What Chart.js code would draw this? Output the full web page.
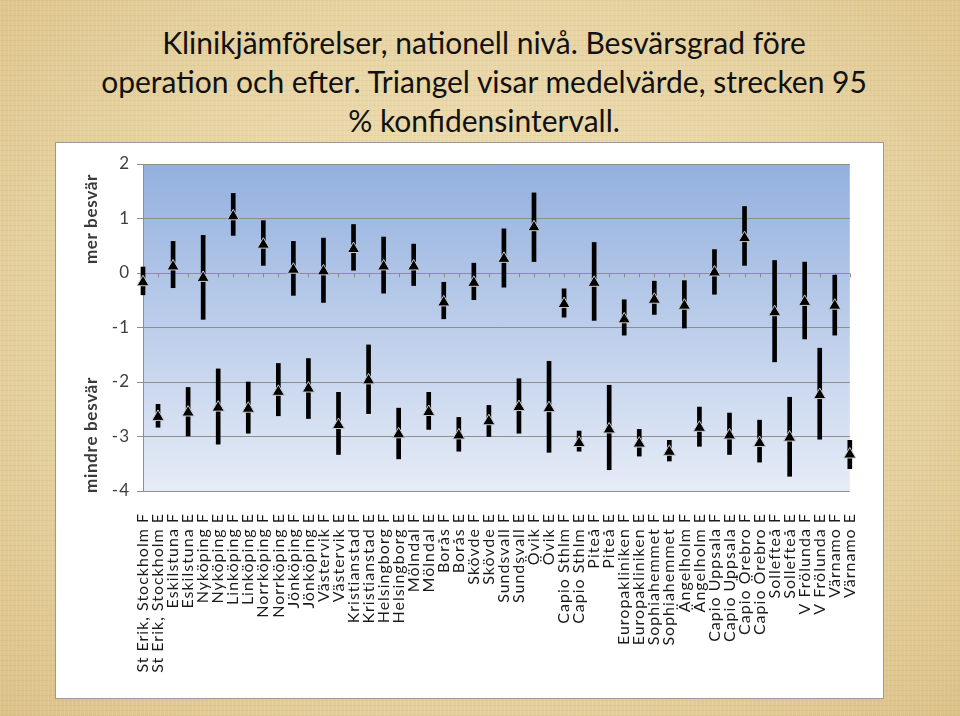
<!DOCTYPE html>
<html>
<head>
<meta charset="utf-8">
<script src="https://cdn.jsdelivr.net/npm/chart.js@4/dist/chart.umd.min.js"></script>
<style>
  html, body { margin: 0; padding: 0; }
  body {
    width: 960px; height: 716px; overflow: hidden; position: relative;
    background-color: #e6d09c;
    background-image:
      repeating-linear-gradient(90deg, rgba(255,255,255,0.10) 0 1px, rgba(0,0,0,0) 1px 4px),
      repeating-linear-gradient(0deg, rgba(160,120,50,0.07) 0 1px, rgba(0,0,0,0) 1px 5px),
      radial-gradient(ellipse at 50% 45%, #f0e0b6 0%, #e8d4a2 55%, #dcc186 100%);
    font-family: Lato, "Noto Sans", sans-serif;
  }
  #title {
    position: absolute; left: 4px; top: 23px; width: 960px;
    text-align: center; font-size: 30px; line-height: 39px; color: #111;
  }
  #box {
    position: absolute; left: 55px; top: 142px; width: 829px; height: 557px;
    box-sizing: border-box; background: #fff; border: 1px solid #9a9a9a;
  }
  #wrap { position: absolute; left: 0; top: 0; width: 827px; height: 555px; }
  .side {
    position: absolute; font-weight: bold; font-size: 17px; letter-spacing: 0.7px; color: #3a3a3a;
    transform: translate(-50%, -50%) rotate(-90deg); white-space: nowrap;
  }
</style>
</head>
<body>
<div id="title">Klinikjämförelser, nationell nivå. Besvärsgrad före<br>operation och efter. Triangel visar medelvärde, strecken 95<br>% konfidensintervall.</div>
<div id="box"><div id="wrap"><canvas id="chart"></canvas></div></div>
<div class="side" style="left:90px; top:219px;">mer besvär</div>
<div class="side" style="left:90px; top:435px;">mindre besvär</div>
<script>
// Clinics: F = före (before), E = efter (after)
const categories = [
  'St Erik, Stockholm F', 'St Erik, Stockholm E', 'Eskilstuna F', 'Eskilstuna E',
  'Nyköping F', 'Nyköping E', 'Linköping F', 'Linköping E',
  'Norrköping F', 'Norrköping E', 'Jönköping F', 'Jönköping E',
  'Västervik F', 'Västervik E', 'Kristianstad F', 'Kristianstad E',
  'Helsingborg F', 'Helsingborg E', 'Mölndal F', 'Mölndal E',
  'Borås F', 'Borås E', 'Skövde F', 'Skövde E',
  'Sundsvall F', 'Sundsvall E', 'Övik F', 'Övik E',
  'Capio Sthlm F', 'Capio Sthlm E', 'Piteå F', 'Piteå E',
  'Europakliniken F', 'Europakliniken E', 'Sophiahemmet F', 'Sophiahemmet E',
  'Ängelholm F', 'Ängelholm E', 'Capio Uppsala F', 'Capio Uppsala E',
  'Capio Örebro F', 'Capio Örebro E', 'Sollefteå F', 'Sollefteå E',
  'V Frölunda F', 'V Frölunda E', 'Värnamo F', 'Värnamo E'
];

// mean value (triangle)
const means = [
  -0.17, -2.64, 0.12, -2.56, -0.09, -2.47, 1.04, -2.49,
  0.52, -2.18, 0.06, -2.12, 0.03, -2.79, 0.44, -1.97,
  0.12, -2.96, 0.12, -2.55, -0.54, -2.98, -0.18, -2.72,
  0.26, -2.46, 0.84, -2.48, -0.57, -3.12, -0.18, -2.87,
  -0.85, -3.13, -0.49, -3.28, -0.60, -2.84, 0.01, -2.98,
  0.64, -3.12, -0.72, -3.02, -0.53, -2.24, -0.60, -3.33
];

// 95% confidence interval, upper and lower ends
const ciHigh = [
  0.11, -2.41, 0.58, -2.10, 0.69, -1.76, 1.46, -2.00,
  0.96, -1.66, 0.58, -1.57, 0.64, -2.19, 0.89, -1.32,
  0.66, -2.48, 0.53, -2.19, -0.17, -2.65, 0.18, -2.43,
  0.81, -1.94, 1.47, -1.62, -0.29, -2.90, 0.56, -2.06,
  -0.49, -2.87, -0.15, -3.07, -0.14, -2.46, 0.43, -2.57,
  1.22, -2.70, 0.23, -2.28, 0.20, -1.38, -0.04, -3.07
];
const ciLow = [
  -0.40, -2.83, -0.27, -2.99, -0.85, -3.14, 0.69, -2.94,
  0.14, -2.62, -0.41, -2.67, -0.54, -3.33, 0.05, -2.58,
  -0.37, -3.41, -0.23, -2.87, -0.84, -3.27, -0.49, -3.00,
  -0.26, -2.94, 0.21, -3.29, -0.81, -3.27, -0.87, -3.61,
  -1.14, -3.36, -0.76, -3.45, -1.01, -3.18, -0.39, -3.33,
  0.14, -3.47, -1.63, -3.73, -1.21, -3.05, -1.14, -3.59
];

const yTicks = [2, 1, 0, -1, -2, -3, -4];

const gridGray = '#8e8e8e';

// gradient plot background
const plotBg = {
  id: 'plotBg',
  beforeDraw(chart) {
    const { ctx, chartArea: a } = chart;
    const g = ctx.createLinearGradient(0, a.top, 0, a.bottom);
    g.addColorStop(0, '#93b0de');
    g.addColorStop(1, '#e6ecf7');
    ctx.save();
    ctx.fillStyle = g;
    ctx.fillRect(a.left, a.top, a.right - a.left, a.bottom - a.top);
    ctx.restore();
    // category labels in the original are widely spaced
    ctx.letterSpacing = '1px';
  }
};

// small category tick marks along the zero line
const zeroTicks = {
  id: 'zeroTicks',
  beforeDatasetsDraw(chart) {
    const { ctx, scales: { x, y } } = chart;
    const y0 = Math.round(y.getPixelForValue(0)) + 0.5;
    ctx.save();
    ctx.strokeStyle = '#8a8a8a';
    ctx.lineWidth = 1;
    ctx.beginPath();
    categories.forEach((c, i) => {
      const px = Math.round(x.getPixelForValue(i)) + 0.5;
      ctx.moveTo(px, y0);
      ctx.lineTo(px, y0 + 4);
    });
    ctx.stroke();
    ctx.restore();
  }
};

const ctx = document.getElementById('chart').getContext('2d');
new Chart(ctx, {
  type: 'bar',
  data: {
    labels: categories,
    datasets: [
      {
        type: 'line',
        label: 'Medelvärde',
        data: means,
        showLine: false,
        backgroundColor: '#000',
        borderColor: '#c9ccd2',
        pointStyle: 'triangle',
        pointRadius: 7,
        pointBackgroundColor: '#000',
        pointBorderColor: '#c9ccd2',
        pointBorderWidth: 1,
        clip: false,
        order: 0
      },
      {
        label: '95 % KI',
        data: ciLow.map((lo, i) => [lo, ciHigh[i]]),
        backgroundColor: '#000',
        barThickness: 4,
        grouped: false,
        clip: false,
        order: 1
      }
    ]
  },
  options: {
    responsive: true,
    maintainAspectRatio: false,
    animation: false,
    layout: { padding: { left: 0, top: 21, right: 17, bottom: 0 } },
    plugins: {
      legend: { display: false },
      tooltip: { enabled: false }
    },
    scales: {
      x: {
        type: 'category',
        offset: false,
        grid: { display: false },
        border: { display: false },
        ticks: {
          autoSkip: false,
          minRotation: 90,
          maxRotation: 90,
          padding: 14,
          color: '#1a1a1a',
          font: { family: 'Lato', size: 16 }
        },
        afterFit(scale) { scale.height = 207; }
      },
      y: {
        min: -4,
        max: 2,
        afterBuildTicks(scale) { scale.ticks = yTicks.map(v => ({ value: v })); },
        grid: { color: gridGray, tickLength: 6, tickColor: gridGray },
        border: { color: gridGray },
        ticks: {
          padding: 7,
          color: '#404040',
          font: { family: 'Lato', size: 17 }
        },
        afterFit(scale) { scale.width = 87; }
      }
    }
  },
  plugins: [plotBg, zeroTicks]
});
</script>
</body>
</html>
